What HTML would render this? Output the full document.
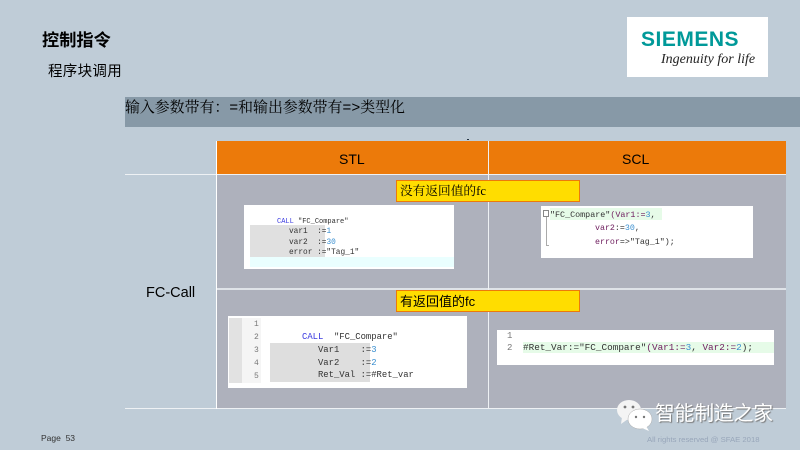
<!DOCTYPE html>
<html lang="zh">
<head>
<meta charset="utf-8">
<style>
html,body{margin:0;padding:0}
body{width:800px;height:450px;overflow:hidden;background:#bfccd7;position:relative;font-family:"Liberation Sans","Noto Sans CJK SC",sans-serif;color:#000}
div{position:absolute;box-sizing:border-box;white-space:pre}
.m{font-family:"Liberation Mono","Noto Sans CJK SC",monospace;color:#333}
.b{color:#3a3ae0}.n{color:#3a8fd0}.p{color:#702060}.g{color:#777}
.y{left:396px;width:184px;height:22px;background:#ffdd00;border:1px solid #ec7a0a;font-family:"Liberation Serif","Noto Serif CJK SC",serif;font-size:12.7px;line-height:21px;padding-left:3px}
</style>
</head>
<body>
<div style="left:42px;top:29px;font-size:17.2px;line-height:22px;font-weight:bold">控制指令</div>
<div style="left:48px;top:62px;font-size:14.5px;line-height:20px;letter-spacing:.3px">程序块调用</div>

<div style="left:125px;top:97px;width:675px;height:30px;background:#8799a7"></div>
<div style="left:125px;top:99px;font-family:'Liberation Mono','Noto Serif CJK SC',monospace;font-size:14.9px;line-height:20px">输入参数带有：=和输出参数带有=&gt;类型化</div>
<div style="left:467px;top:139px;width:2px;height:1px;background:#234"></div>

<div style="left:217px;top:141px;width:569px;height:33px;background:#ec7a0a"></div>
<div style="left:217px;top:175px;width:569px;height:233px;background:#aeb1bc"></div>
<div style="left:339px;top:150px;font-size:14px;line-height:18px">STL</div>
<div style="left:622px;top:150px;font-size:14px;line-height:18px">SCL</div>
<div style="left:146px;top:284px;font-size:14.5px;line-height:18px">FC-Call</div>

<div style="left:125px;top:174px;width:661px;height:1px;background:#eef1f4"></div>
<div style="left:217px;top:288px;width:569px;height:2px;background:#dfe3e8"></div>
<div style="left:125px;top:408px;width:661px;height:1px;background:#eef1f4"></div>
<div style="left:216px;top:141px;width:1px;height:268px;background:#fff"></div>
<div style="left:488px;top:141px;width:1px;height:268px;background:#eef1f4"></div>

<div class="y" style="top:180px">没有返回值的fc</div>
<div class="y" style="top:290px;font-size:13px;font-family:'Liberation Sans','Noto Sans CJK SC',sans-serif">有返回值的fc</div>

<!-- STL 1 -->
<div style="left:244px;top:205px;width:210px;height:64px;background:#fff"></div>
<div style="left:250px;top:225px;width:75px;height:32px;background:#e0e0e0"></div>
<div style="left:250px;top:257px;width:204px;height:10px;background:#eaffff"></div>
<div class="m" style="left:277px;top:217px;font-size:7px;line-height:10px"><span class="b">CALL</span> "FC_Compare"</div>
<div class="m" style="left:289px;top:227px;font-size:7.8px;line-height:10.5px">var1  :=<span class="n">1</span>
var2  :=<span class="n">30</span>
error :="Tag_1"</div>

<!-- SCL 1 -->
<div style="left:541px;top:206px;width:212px;height:52px;background:#fff"></div>
<div style="left:550px;top:208px;width:112px;height:12px;background:#e6fbe8"></div>
<div style="left:543px;top:210px;width:6px;height:7px;border:1px solid #888"></div>
<div style="left:546px;top:217px;width:3px;height:29px;border-left:1px solid #aaa;border-bottom:1px solid #aaa"></div>
<div class="m" style="left:550px;top:209px;font-size:8.4px;line-height:13.5px">"FC_Compare"<span class="p">(Var1:=</span><span class="n">3</span>,</div>
<div class="m" style="left:595px;top:222px;font-size:8.3px;line-height:13.5px"><span class="p">var2</span>:=<span class="n">30</span>,
<span class="p">error</span>=&gt;"Tag_1");</div>

<!-- STL 2 -->
<div style="left:228px;top:316px;width:239px;height:72px;background:#fff"></div>
<div style="left:229px;top:318px;width:13px;height:65px;background:#e2e2e2"></div>
<div style="left:242px;top:318px;width:19px;height:65px;background:#f5f5f5"></div>
<div style="left:270px;top:343px;width:100px;height:39px;background:#dedede"></div>
<div class="m g" style="left:254px;top:318px;font-size:8px;line-height:13px">1
2
3
4
5</div>
<div class="m" style="left:302px;top:331px;font-size:8.9px;line-height:12.8px"><span class="b">CALL</span>  "FC_Compare"
   Var1    :=<span class="n">3</span>
   Var2    :=<span class="n">2</span>
   Ret_Val :=#Ret_var</div>

<!-- SCL 2 -->
<div style="left:497px;top:330px;width:277px;height:35px;background:#fff"></div>
<div style="left:523px;top:342px;width:251px;height:11px;background:#e6fbe8"></div>
<div class="m g" style="left:507px;top:330px;font-size:9px;line-height:12px">1
2</div>
<div class="m" style="left:523px;top:342px;font-size:9.35px;line-height:11px">#Ret_Var:="FC_Compare"<span class="p">(Var1:=</span><span class="n">3</span>, <span class="p">Var2:=</span><span class="n">2</span>);</div>

<!-- Logo -->
<div style="left:627px;top:17px;width:141px;height:60px;background:#fff"></div>
<div style="left:641px;top:28px;font-size:21px;line-height:24px;font-weight:bold;color:#009999;letter-spacing:.5px">SIEMENS</div>
<div style="left:661px;top:51px;font-family:'Liberation Serif',serif;font-style:italic;font-size:14px;line-height:18px;color:#222">Ingenuity for life</div>

<!-- Watermark -->
<svg style="position:absolute;left:615px;top:398px" width="45" height="34" viewBox="0 0 45 34">
<ellipse cx="14" cy="12" rx="12" ry="10" fill="#f4f4f4"/>
<path d="M7 19 L6 26 L13 21Z" fill="#f4f4f4"/>
<ellipse cx="25" cy="21" rx="12" ry="10" fill="#fff" stroke="#aaa" stroke-width=".5"/>
<path d="M31 28 L34 33 L27 30Z" fill="#fff"/>
<circle cx="10" cy="9" r="1.4" fill="#777"/><circle cx="18" cy="9" r="1.4" fill="#777"/>
<circle cx="21" cy="19" r="1.2" fill="#777"/><circle cx="29" cy="19" r="1.2" fill="#777"/>
</svg>
<div style="left:655px;top:401px;font-size:19.7px;line-height:26px;color:#fff;text-shadow:1px 1px 1px #777">智能制造之家</div>

<div style="left:647px;top:434px;font-size:7.7px;line-height:11px;color:#98a6ba">All rights reserved @ SFAE 2018</div>
<div style="left:41px;top:433px;font-size:8.5px;line-height:11px;color:#333">Page&nbsp;&nbsp;53</div>
</body>
</html>
